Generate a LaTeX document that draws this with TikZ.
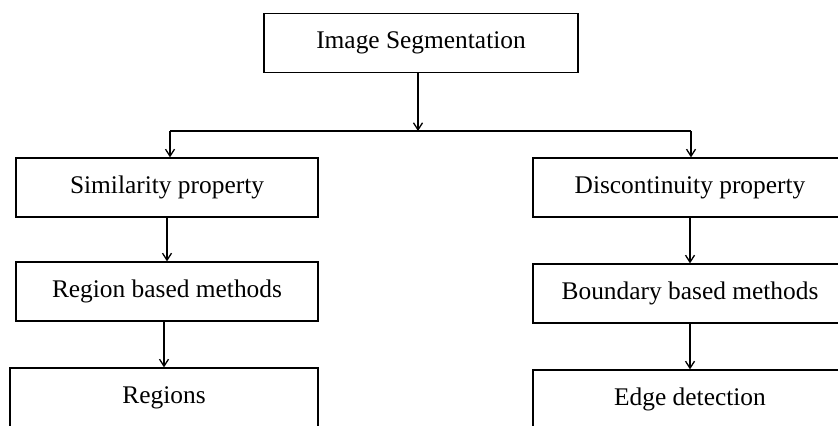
\documentclass[tikz,border=0pt]{standalone}
\usepackage{fontspec}
\setmainfont{Liberation Serif}
\usetikzlibrary{arrows.meta}
\begin{document}
\begin{tikzpicture}[x=0.5pt, y=-0.5pt, line width=0.65pt,
    main/.style = {draw, rectangle, minimum height=29.5pt, font=\fontsize{12.7}{15}\selectfont},
    arr/.style = {-{Straight Barb[length=3.5pt, width=4.5pt]}}]
    \useasboundingbox (0,0) rectangle (838,425);
    \node[main, minimum width=157pt] (1) at (421,43) {Image Segmentation};
    \node[main, minimum width=151pt] (2) at (167,187.5) {Similarity property};
    \node[main, minimum width=157pt] (3) at (690,187.5) {Discontinuity property};
    \node[main, minimum width=151pt] (4) at (167,291.5) {Region based methods};
    \node[main, minimum width=157pt] (5) at (690,293.5) {Boundary based methods};
    \node[main, minimum width=154pt] (6) at (164,397.5) {Regions};
    \node[main, minimum width=157pt] (7) at (690,399.5) {Edge detection};
    \coordinate (jl) at (170,131);
    \coordinate (jm) at (418,131);
    \coordinate (jr) at (691,131);
    \draw[arr] (1.south -| jm) -- (jm);
    \draw (jl) -- (jr);
    \draw[arr] (jl) -- (jl |- 2.north);
    \draw[arr] (jr) -- (jr |- 3.north);
    \draw[arr] (2.south) -- (2.south |- 4.north);
    \draw[arr] (3.south) -- (3.south |- 5.north);
    \draw[arr] (6.north |- 4.south) -- (6.north);
    \draw[arr] (5.south) -- (5.south |- 7.north);
\end{tikzpicture}
\end{document}
